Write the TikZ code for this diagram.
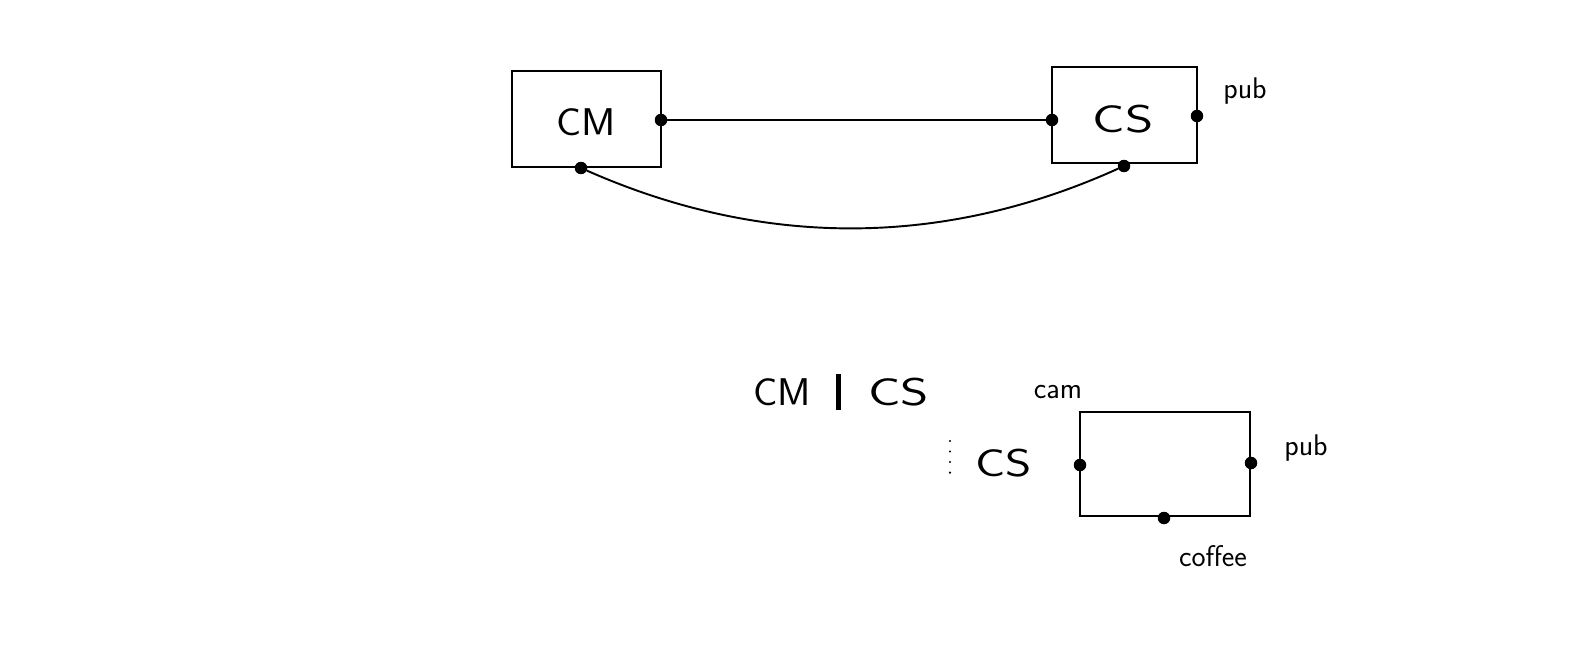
\documentclass[tikz,border=0pt]{standalone}
\usetikzlibrary{calc}
\begin{document}
\begin{tikzpicture}[x=0.02cm,y=-0.02cm,
  box/.style={draw,line width=1.1pt,inner sep=0pt},
  port/.style={circle,fill=black,draw=black,line width=0.6pt,inner sep=0pt,minimum size=6.5pt},
  wire/.style={line width=1.1pt},
  big/.style={font=\sffamily\fontsize{22}{26}\selectfont},
  small/.style={font=\sffamily\fontsize{17}{19}\selectfont}]
\useasboundingbox[fill=white] (0,0) rectangle (1590,666);
% top
\node[box,minimum width=2.98cm,minimum height=1.92cm] (cm) at (586.5,119) {};
\node[big] (cmt) at (586,122) {\scalebox{1.08}[1]{CM}};
\node[box,minimum width=2.9cm,minimum height=1.92cm] (cs) at (1124.5,115) {};
\node[big] (cst) at (1123,119) {\scalebox{1.4}[1]{CS}};
\node[port] (cmE) at (661,120) {};
\node[port] (csW) at (1052,120) {};
\node[port] (csE) at (1197,116) {};
\node[port] (cmS) at (581,168) {};
\node[port] (csS) at (1124,166) {};
\node[small] (pub1) at (1245,91) {pub};
\draw[wire] (cmE) -- (csW);
\draw[wire] (cmS) .. controls (762,248) and (943,248) .. (csS);
% bottom
\node[big] (par) at (841,392) {\scalebox{1.05}[1]{CM}\hspace{0.5cm}\rule[-0.12em]{2.8pt}{0.95em}\hspace{0.55cm}\scalebox{1.4}[1]{CS}};
\node[small] (cam) at (1058,392) {cam};
\node[box,minimum width=3.4cm,minimum height=2.08cm] (b) at (1165,464) {};
\node[big] (cs2) at (1004,463) {\scalebox{1.3}[1]{CS}};
\coordinate (dt) at (950,441);
\coordinate (db) at (950,483);
\draw[line width=1.3pt,line cap=round,dash pattern=on 0pt off 6pt] (dt) -- (db);
\node[port] (bW) at (1080,465) {};
\node[port] (bE) at (1251,463) {};
\node[port] (bS) at (1164,518) {};
\node[small] (pub2) at (1306,448) {pub};
\node[small] (coffee) at (1213,556) {coffee};
\end{tikzpicture}
\end{document}
